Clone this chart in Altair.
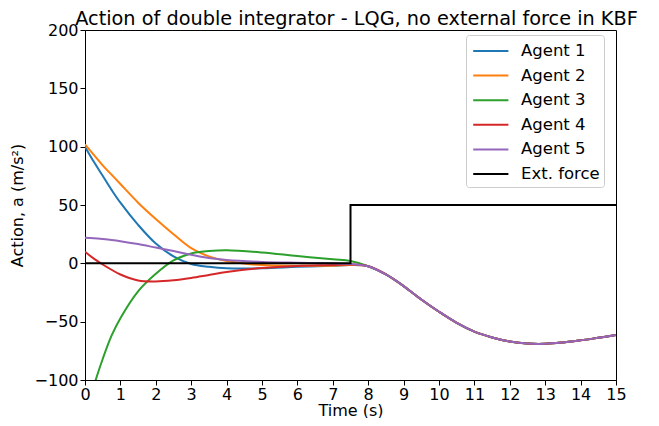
import altair as alt
import pandas as pd

times = [0, 0.25, 0.5, 0.75, 1, 1.5, 2, 2.5, 3, 3.5, 4, 5, 6, 7, 7.5,
         8, 8.5, 9, 9.5, 10, 10.5, 11, 11.5, 12, 12.5, 13, 13.5, 14, 14.5, 15]

# shared trajectory after the external force kicks in (t >= 8)
common_tail = [-2.5, -9.5, -19.5, -31, -41.5, -51, -58.5, -63.5, -67, -68.8,
               -69, -67.8, -66, -63.8, -61.5]

agent1 = [100, 87, 75, 63, 52, 33, 17, 6, -0.5, -3, -4.3, -4.3, -3, -2, -1.5] + common_tail
agent2 = [102, 93, 84, 76, 68, 52, 38, 25, 13, 6, 2, -1.5, -2, -2, -1.5] + common_tail
agent3 = [-132, -105, -82, -62, -47, -24, -9, 2.5, 8.5, 10.5, 11.2, 9.3, 6.2, 3.4, 2] + common_tail
agent4 = [10, 4, -1, -5.5, -9.6, -14.7, -15.5, -14.5, -12.5, -10, -7.5, -4, -2.2, -1.5, -1] + common_tail
agent5 = [22, 21.5, 20.8, 20, 19, 16.5, 13.5, 10.5, 7.3, 4.5, 2.8, 1.2, 0.5, 0, -0.5] + common_tail

force_t = [0, 7.5, 15]
force_v = [0, 50, 50]

series_names = ["Agent 1", "Agent 2", "Agent 3", "Agent 4", "Agent 5", "Ext. force"]
series_colors = ["#1f77b4", "#ff7f0e", "#2ca02c", "#d62728", "#9467bd", "#000000"]

rows = []
for name, vals in zip(series_names[:5], [agent1, agent2, agent3, agent4, agent5]):
    for t, v in zip(times, vals):
        rows.append({"t": t, "v": v, "series": name})
agents_df = pd.DataFrame(rows)
force_df = pd.DataFrame({"t": force_t, "v": force_v, "series": "Ext. force"})

FONT = "DejaVu Sans"

x = alt.X("t:Q", title="Time (s)",
          scale=alt.Scale(domain=[0, 15], nice=False, zero=False),
          axis=alt.Axis(values=list(range(0, 16)), format="d"))
y = alt.Y("v:Q", title="Action, a (m/s²)",
          scale=alt.Scale(domain=[-100, 200], nice=False),
          axis=alt.Axis(values=[-100, -50, 0, 50, 100, 150, 200]))
color = alt.Color("series:N",
                  scale=alt.Scale(domain=series_names, range=series_colors),
                  legend=alt.Legend(title=None, orient="none", legendX=381, legendY=5,
                                    symbolType="M-0.8,0H2.4", symbolSize=484,
                                    symbolStrokeWidth=2, labelOffset=27,
                                    labelFontSize=16.5, labelFont=FONT,
                                    labelColor="black", rowPadding=3.6,
                                    padding=4, strokeColor="#cccccc",
                                    fillColor="white", cornerRadius=3))

agents = alt.Chart(agents_df).mark_line(
    interpolate="catmull-rom", strokeWidth=2, clip=True
).encode(x=x, y=y, color=color)

force = alt.Chart(force_df).mark_line(
    interpolate="step-after", strokeWidth=2, clip=True
).encode(x=x, y=y, color=color)

chart = alt.layer(agents, force).properties(
    width=531, height=350,
    title=alt.TitleParams("Action of double integrator - LQG, no external force in KBF",
                          fontSize=19.3, font=FONT, fontWeight="normal", color="black",
                          anchor="middle", offset=-7, dx=6),
    autosize=alt.AutoSizeParams(type="none"),
    padding={"left": 77, "top": 22, "right": 35, "bottom": 38},
).configure_view(
    stroke="black", strokeWidth=1
).configure_axis(
    grid=False, domainColor="black", tickColor="black", tickSize=5,
    labelFont=FONT, labelFontSize=16, labelColor="black", labelPadding=2,
    titleFont=FONT, titleFontSize=16, titleFontWeight="normal", titleColor="black",
    labelFlush=False
).configure_axisX(
    titlePadding=0, labelPadding=1
).configure_axisY(
    titlePadding=9
)

chart.save("out.html", embed_options={"renderer": "svg", "actions": False})
